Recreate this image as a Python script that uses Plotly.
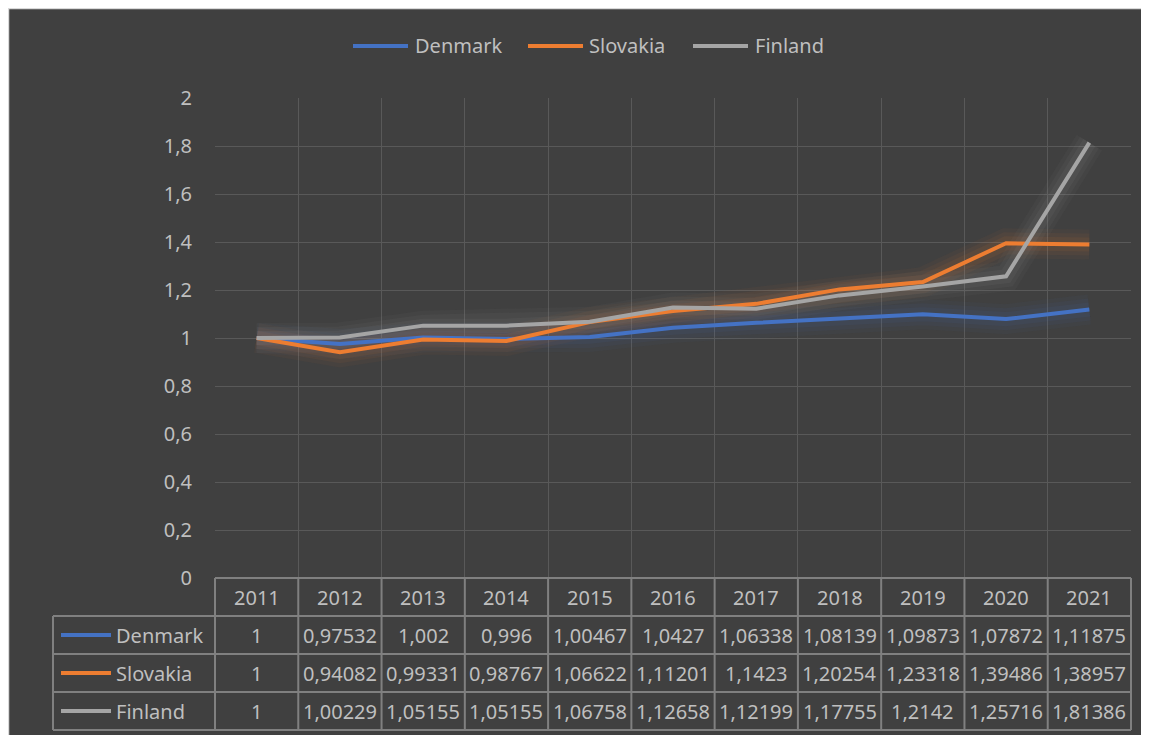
import plotly.graph_objects as go

years = [2011, 2012, 2013, 2014, 2015, 2016, 2017, 2018, 2019, 2020, 2021]
denmark = [1, 0.97532, 1.002, 0.996, 1.00467, 1.0427, 1.06338, 1.08139, 1.09873, 1.07872, 1.11875]
slovakia = [1, 0.94082, 0.99331, 0.98767, 1.06622, 1.11201, 1.1423, 1.20254, 1.23318, 1.39486, 1.38957]
finland = [1, 1.00229, 1.05155, 1.05155, 1.06758, 1.12658, 1.12199, 1.17755, 1.2142, 1.25716, 1.81386]

series_names = ["Denmark", "Slovakia", "Finland"]
series_values = [denmark, slovakia, finland]
series_colors = ["#4472C4", "#ED7D31", "#A5A5A5"]
glow_colors = ["rgba(68,114,196,{a})", "rgba(237,125,49,{a})", "rgba(165,165,165,{a})"]

y_ticks = [0, 0.2, 0.4, 0.6, 0.8, 1, 1.2, 1.4, 1.6, 1.8, 2]
y_ticktext = [f"{v:g}".replace(".", ",") for v in y_ticks]

W, H = 1149, 735
OFF = 8  # page body margin; coordinates below are screen pixels
L, R, T, B = 215, 1131, 98, 578
PW, PH = R - L, B - T
FONT = "Noto Sans"
FS = 20
TXT = "#BFBFBF"
GRID = "#595959"
TBL = "#808080"

def px_x(p):
    return (p - L) / PW

def px_y(p):
    return (B - p) / PH

xidx = list(range(len(years)))

fig = go.Figure()

# glow layers
for vals, gc in zip(series_values, glow_colors):
    for w, a in [(30, 0.045), (22, 0.055), (14, 0.07)]:
        fig.add_trace(go.Scatter(x=xidx, y=vals, mode="lines",
                                 line=dict(color=gc.format(a=a), width=w),
                                 showlegend=False, hoverinfo="skip"))

for name, vals, col in zip(series_names, series_values, series_colors):
    fig.add_trace(go.Scatter(x=xidx, y=vals, mode="lines", name=name,
                             line=dict(color=col, width=4), showlegend=False))

shapes = []
annotations = []

# light border at chart edge
shapes.append(dict(type="rect", xref="paper", yref="paper", layer="below",
                   x0=px_x(OFF + 0.5), x1=px_x(W + OFF + 20), y0=px_y(OFF + 0.5), y1=px_y(H + OFF + 20),
                   fillcolor="rgba(0,0,0,0)", line=dict(color="#D9D9D9", width=1.5)))

# manual legend
legend_items = [(353, 408, 413), (528, 583, 587), (693, 748, 753)]
ly = px_y(46)
for (x0, x1, xt), name, col in zip(legend_items, series_names, series_colors):
    shapes.append(dict(type="line", xref="paper", yref="paper", x0=px_x(x0), x1=px_x(x1),
                       y0=ly, y1=ly, line=dict(color=col, width=4)))
    annotations.append(dict(xref="paper", yref="paper", x=px_x(xt), y=ly, text=name,
                            showarrow=False, xanchor="left", yanchor="middle",
                            font=dict(family=FONT, size=FS, color=TXT)))

# data table geometry
ncol = len(years)
colw = PW / ncol
col_edges = [L + i * colw for i in range(ncol + 1)]
row_edges = [578, 616, 654, 692, 730]
left_edge = 53

shapes.append(dict(type="line", xref="paper", yref="paper", x0=px_x(L), x1=px_x(R),
                   y0=px_y(row_edges[0]), y1=px_y(row_edges[0]), line=dict(color=TBL, width=2)))
for r in range(1, 5):
    shapes.append(dict(type="line", xref="paper", yref="paper", x0=px_x(left_edge), x1=px_x(R),
                       y0=px_y(row_edges[r]), y1=px_y(row_edges[r]), line=dict(color=TBL, width=2)))
for xe in col_edges:
    shapes.append(dict(type="line", xref="paper", yref="paper", x0=px_x(xe), x1=px_x(xe),
                       y0=px_y(row_edges[0]), y1=px_y(row_edges[4]), line=dict(color=TBL, width=2)))
shapes.append(dict(type="line", xref="paper", yref="paper", x0=px_x(left_edge), x1=px_x(left_edge),
                   y0=px_y(row_edges[1]), y1=px_y(row_edges[4]), line=dict(color=TBL, width=2)))

def cell_center_y(r):
    return px_y((row_edges[r] + row_edges[r + 1]) / 2)

for i, yr in enumerate(years):
    annotations.append(dict(xref="paper", yref="paper", x=px_x((col_edges[i] + col_edges[i + 1]) / 2),
                            y=cell_center_y(0), text=str(yr), showarrow=False,
                            xanchor="center", yanchor="middle", font=dict(family=FONT, size=FS, color=TXT)))

for s, (name, vals, col) in enumerate(zip(series_names, series_values, series_colors)):
    r = s + 1
    cy = cell_center_y(r)
    shapes.append(dict(type="line", xref="paper", yref="paper", x0=px_x(61), x1=px_x(111),
                       y0=cy, y1=cy, line=dict(color=col, width=4)))
    annotations.append(dict(xref="paper", yref="paper", x=px_x(114), y=cy, text=name,
                            showarrow=False, xanchor="left", yanchor="middle",
                            font=dict(family=FONT, size=FS, color=TXT)))
    for i, v in enumerate(vals):
        annotations.append(dict(xref="paper", yref="paper", x=px_x((col_edges[i] + col_edges[i + 1]) / 2),
                                y=cy, text=f"{v:g}".replace(".", ","), showarrow=False,
                                xanchor="center", yanchor="middle",
                                font=dict(family=FONT, size=FS, color=TXT)))

fig.update_layout(
    width=W, height=H,
    margin=dict(l=L - OFF, r=W - (R - OFF), t=T - OFF, b=H - (B - OFF)),
    paper_bgcolor="#404040",
    plot_bgcolor="rgba(0,0,0,0)",
    font=dict(family=FONT, size=FS, color=TXT),
    showlegend=False,
    shapes=shapes,
    annotations=annotations,
    xaxis=dict(range=[-0.5, ncol - 0.5], tickvals=[i - 0.5 for i in range(ncol + 1)],
               showticklabels=False, showgrid=True, gridcolor=GRID, gridwidth=1,
               zeroline=False, showline=False, ticks=""),
    yaxis=dict(range=[0, 2], tickvals=y_ticks, ticktext=y_ticktext, showgrid=True,
               gridcolor=GRID, gridwidth=1, zeroline=False, showline=False, ticks="",
               ticklabelstandoff=22, tickfont=dict(family=FONT, size=FS, color=TXT)),
)

fig.write_html("out.html")
